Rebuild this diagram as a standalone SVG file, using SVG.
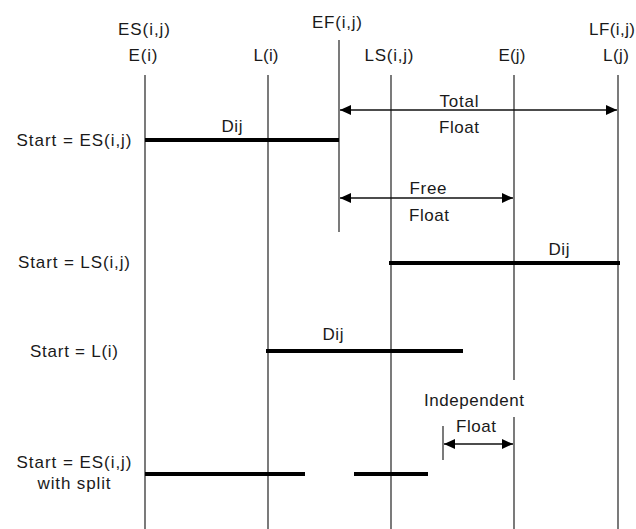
<svg xmlns="http://www.w3.org/2000/svg" width="636" height="529" viewBox="0 0 636 529">
<style>
text{font-family:"Liberation Sans",Arial,sans-serif;font-size:17px;fill:#1a1a1a;text-anchor:middle}
.v{stroke:#333;stroke-width:1.3;fill:none}
.bar{stroke:#000;stroke-width:4;fill:none}
.arr{stroke:#111;stroke-width:1.5;fill:none;marker-start:url(#ah);marker-end:url(#ah)}
</style>
<defs>
<marker id="ah" viewBox="0 0 11 10" refX="11" refY="5" markerWidth="11" markerHeight="10" markerUnits="userSpaceOnUse" orient="auto-start-reverse">
<path d="M0,0 L11,5 L0,10 Z" fill="#000"/>
</marker>
</defs>
<rect width="636" height="529" fill="#fff"/>
<g id="axes">
<g id="col-ES"><text x="144" y="35" textLength="52" lengthAdjust="spacing">ES(i,j)</text><text x="143" y="61" textLength="29" lengthAdjust="spacing">E(i)</text><line class="v" x1="145" y1="75" x2="145" y2="529"/></g>
<g id="col-Li"><text x="266" y="61" textLength="25" lengthAdjust="spacing">L(i)</text><line class="v" x1="268" y1="75" x2="268" y2="529"/></g>
<g id="col-EF"><text x="337" y="28" textLength="50" lengthAdjust="spacing">EF(i,j)</text><line class="v" x1="339" y1="40" x2="339" y2="232"/></g>
<g id="col-LS"><text x="389" y="61" textLength="49" lengthAdjust="spacing">LS(i,j)</text><line class="v" x1="391" y1="75" x2="391" y2="529"/></g>
<g id="col-Ej"><text x="512" y="61" textLength="27" lengthAdjust="spacing">E(j)</text><line class="v" x1="514" y1="75" x2="514" y2="380"/><line class="v" x1="514" y1="417" x2="514" y2="529"/></g>
<g id="col-LF"><text x="612" y="35" textLength="46" lengthAdjust="spacing">LF(i,j)</text><text x="616" y="61" textLength="26" lengthAdjust="spacing">L(j)</text><line class="v" x1="618" y1="75" x2="618" y2="529"/></g>
</g>
<g id="rows">
<g id="row1"><text x="74" y="146" textLength="115" lengthAdjust="spacing">Start = ES(i,j)</text><line class="bar" x1="145" y1="140" x2="339" y2="140"/><text x="232" y="132" textLength="21" lengthAdjust="spacing">Dij</text></g>
<g id="row2"><text x="74" y="268" textLength="112" lengthAdjust="spacing">Start = LS(i,j)</text><line class="bar" x1="389" y1="263" x2="620" y2="263"/><text x="559" y="255" textLength="21" lengthAdjust="spacing">Dij</text></g>
<g id="row3"><text x="74" y="357" textLength="88" lengthAdjust="spacing">Start = L(i)</text><line class="bar" x1="266" y1="351" x2="463" y2="351"/><text x="333" y="340" textLength="21" lengthAdjust="spacing">Dij</text></g>
<g id="row4"><text x="74" y="468" textLength="115" lengthAdjust="spacing">Start = ES(i,j)</text><text x="74" y="489" textLength="73" lengthAdjust="spacing">with split</text><line class="bar" x1="145" y1="474" x2="305" y2="474"/><line class="bar" x1="354" y1="474" x2="428" y2="474"/></g>
</g>
<g id="connectors">
<g id="total-float"><line class="arr" x1="340" y1="110" x2="617" y2="110"/><text x="459" y="107" textLength="39" lengthAdjust="spacing">Total</text><text x="459" y="133" textLength="40" lengthAdjust="spacing">Float</text></g>
<g id="free-float"><line class="arr" x1="340" y1="198" x2="513" y2="198"/><text x="428" y="194" textLength="37" lengthAdjust="spacing">Free</text><text x="429" y="221" textLength="40" lengthAdjust="spacing">Float</text></g>
<g id="independent-float"><line class="v" x1="443" y1="426" x2="443" y2="460"/><line class="arr" x1="444" y1="444" x2="513" y2="444"/><text x="474" y="406" textLength="100" lengthAdjust="spacing">Independent</text><text x="476" y="432" textLength="40" lengthAdjust="spacing">Float</text></g>
</g>
</svg>
